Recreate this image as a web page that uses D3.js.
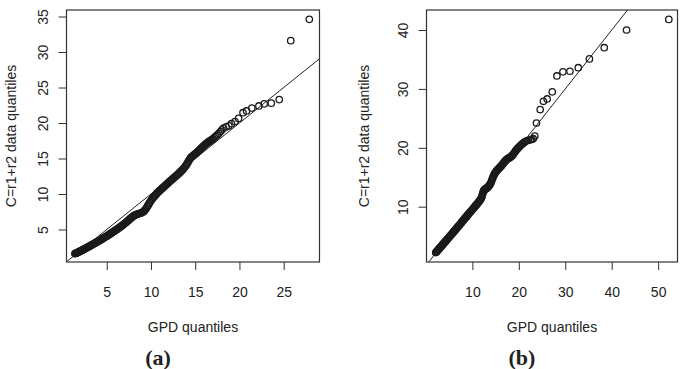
<!DOCTYPE html>
<html>
<head>
<meta charset="utf-8">
<script src="https://cdn.jsdelivr.net/npm/d3@7"></script>
<style>
  body { margin: 0; background: #fff; }
  svg { display: block; }
  text { font-family: "Liberation Sans", Arial, sans-serif; fill: #222; }
  .tag { font-family: "Liberation Serif", "Times New Roman", serif; font-weight: bold; }
</style>
</head>
<body>
<div id="chart"></div>
<script>
'use strict'

// panel (a): GPD quantiles (x) vs sorted data quantiles (y)
const gpdA = [
  1.40, 1.46, 1.52, 1.57, 1.63, 1.70, 1.76, 1.83, 1.90, 1.96, 2.03, 2.10, 2.17, 2.24, 2.31, 2.38, 2.46, 2.53,
  2.61, 2.69, 2.77, 2.85, 2.93, 3.01, 3.10, 3.18, 3.27, 3.35, 3.44, 3.53, 3.62, 3.71, 3.81, 3.90, 4.00,
  4.09, 4.19, 4.29, 4.38, 4.48, 4.58, 4.68, 4.78, 4.88, 4.98, 5.08, 5.18, 5.28, 5.38, 5.48, 5.58, 5.68,
  5.78, 5.88, 5.98, 6.08, 6.18, 6.28, 6.38, 6.48, 6.58, 6.68, 6.78, 6.88, 6.98,
  7.08, 7.18, 7.28, 7.38, 7.48, 7.58, 7.68, 7.78, 7.88, 7.98, 8.08, 8.18, 8.28, 8.38, 8.48, 8.58, 8.68,
  8.78, 8.88, 8.98, 9.08, 9.18, 9.28, 9.38, 9.48, 9.58, 9.68, 9.78, 9.88, 9.98,
  10.08, 10.18, 10.28, 10.38, 10.48, 10.58, 10.68, 10.78, 10.88, 10.98, 11.09, 11.20, 11.31, 11.42, 11.53,
  11.64, 11.75, 11.86, 11.97, 12.08, 12.19, 12.30, 12.41, 12.52, 12.63, 12.74, 12.85, 12.96, 13.07, 13.18,
  13.29, 13.40, 13.51, 13.62, 13.73, 13.84, 13.95,
  14.05, 14.14, 14.23, 14.32, 14.41, 14.50, 14.60, 14.70, 14.81, 14.92, 15.03, 15.14, 15.25, 15.36, 15.47,
  15.58, 15.69, 15.80, 15.91, 16.02, 16.13, 16.24, 16.35, 16.46, 16.57, 16.68, 16.79, 16.90, 17.01,
  17.15, 17.32, 17.50, 17.68, 17.85, 18.02, 18.20, 18.50, 18.80, 19.10, 19.50, 19.90,
  20.40, 20.80, 21.40, 22.20, 22.80, 23.60, 24.50, 25.80, 27.90]
const dataA = [
  1.60, 1.62, 1.65, 1.68, 1.72, 1.75, 1.79, 1.84, 1.88, 1.92, 1.96, 2.01, 2.05, 2.10, 2.14, 2.19, 2.24, 2.29,
  2.35, 2.40, 2.45, 2.51, 2.57, 2.62, 2.68, 2.74, 2.80, 2.86, 2.92, 2.98, 3.05, 3.11, 3.18, 3.25, 3.32,
  3.38, 3.45, 3.52, 3.60, 3.67, 3.75, 3.82, 3.90, 3.98, 4.05, 4.13, 4.22, 4.30, 4.38, 4.46, 4.55, 4.63,
  4.71, 4.80, 4.88, 4.97, 5.05, 5.14, 5.23, 5.32, 5.41, 5.50, 5.60, 5.70, 5.80,
  5.90, 6.00, 6.11, 6.22, 6.33, 6.45, 6.56, 6.67, 6.77, 6.86, 6.94, 7.01, 7.07, 7.12, 7.17, 7.21, 7.25,
  7.29, 7.33, 7.38, 7.45, 7.55, 7.68, 7.84, 8.02, 8.22, 8.43, 8.64, 8.85, 9.05,
  9.22, 9.39, 9.55, 9.70, 9.84, 9.98, 10.11, 10.24, 10.36, 10.48, 10.60, 10.73, 10.85, 10.98, 11.10,
  11.23, 11.35, 11.48, 11.60, 11.73, 11.85, 11.97, 12.09, 12.21, 12.33, 12.45, 12.57, 12.69, 12.81, 12.94,
  13.07, 13.21, 13.35, 13.50, 13.66, 13.83, 14.02,
  14.20, 14.40, 14.60, 14.79, 14.96, 15.11, 15.24, 15.35, 15.46, 15.57, 15.68, 15.80, 15.92, 16.05, 16.18,
  16.31, 16.45, 16.59, 16.72, 16.85, 16.97, 17.09, 17.20, 17.30, 17.40, 17.49, 17.58, 17.68, 17.78,
  17.95, 18.12, 18.32, 18.55, 18.80, 19.05, 19.30, 19.45, 19.60, 19.90, 20.20, 20.65,
  21.45, 21.70, 22.10, 22.40, 22.70, 22.80, 23.30, 31.60, 34.60]

// panel (b)
const gpdB = [
  2.10, 2.22, 2.34, 2.46, 2.58, 2.70, 2.82, 2.94, 3.07, 3.20, 3.33, 3.46, 3.59, 3.72, 3.85, 3.98, 4.11, 4.25,
  4.39, 4.53, 4.67, 4.81, 4.95, 5.09, 5.23, 5.37, 5.51, 5.65, 5.79, 5.93, 6.07, 6.21, 6.35, 6.49, 6.63,
  6.77, 6.91,
  7.05, 7.19, 7.33, 7.47, 7.61, 7.75, 7.89, 8.03, 8.17, 8.31, 8.45, 8.59, 8.73, 8.87, 9.01, 9.15, 9.29,
  9.43, 9.57, 9.71, 9.85, 9.99, 10.13, 10.27, 10.41, 10.55, 10.69, 10.83, 10.97, 11.11, 11.25, 11.39,
  11.53, 11.67, 11.81, 11.95,
  12.05, 12.15, 12.25, 12.35, 12.45, 12.56, 12.67, 12.78, 12.90, 13.02, 13.14, 13.26, 13.38, 13.50, 13.62,
  13.74, 13.86, 13.98,
  14.10, 14.22, 14.34, 14.46, 14.58, 14.71, 14.84, 14.97, 15.10, 15.24, 15.38, 15.52, 15.66, 15.80, 15.94,
  16.08, 16.22, 16.36, 16.50, 16.64, 16.78, 16.92, 17.06, 17.20, 17.34, 17.48, 17.62, 17.76, 17.90,
  18.05, 18.22, 18.40, 18.58, 18.76, 18.94, 19.12, 19.30, 19.48, 19.66, 19.85, 20.04, 20.24, 20.45, 20.67,
  20.90, 21.14, 21.40, 21.70, 22.05, 22.45, 22.75, 23.10, 23.45,
  23.80, 24.60, 25.30, 26.10, 27.20, 28.20, 29.50, 31.00, 32.80, 35.20, 38.40, 43.20, 52.30]
const dataB = [
  2.20, 2.30, 2.41, 2.52, 2.63, 2.74, 2.85, 2.96, 3.08, 3.20, 3.32, 3.44, 3.56, 3.68, 3.80, 3.92, 4.03, 4.15,
  4.28, 4.41, 4.54, 4.67, 4.80, 4.93, 5.06, 5.19, 5.32, 5.45, 5.58, 5.71, 5.84, 5.97, 6.10, 6.23, 6.36,
  6.49, 6.62,
  6.75, 6.88, 7.02, 7.15, 7.29, 7.42, 7.56, 7.69, 7.83, 7.96, 8.09, 8.22, 8.35, 8.48, 8.61, 8.74, 8.87,
  9.00, 9.13, 9.26, 9.39, 9.52, 9.65, 9.78, 9.91, 10.04, 10.17, 10.30, 10.43, 10.57, 10.71, 10.85,
  11.00, 11.15, 11.31, 11.50,
  11.75, 12.02, 12.30, 12.55, 12.74, 12.86, 12.94, 13.00, 13.06, 13.12, 13.19, 13.27, 13.36, 13.46, 13.58,
  13.72, 13.88, 14.06,
  14.30, 14.56, 14.82, 15.06, 15.28, 15.48, 15.66, 15.82, 15.97, 16.11, 16.24, 16.36, 16.48, 16.59, 16.70,
  16.81, 16.93, 17.06, 17.20, 17.35, 17.50, 17.64, 17.77, 17.89, 17.99, 18.08, 18.16, 18.23, 18.29,
  18.36, 18.44, 18.55, 18.70, 18.88, 19.08, 19.28, 19.47, 19.65, 19.82, 19.98, 20.14, 20.30, 20.46, 20.62,
  20.77, 20.92, 21.06, 21.18, 21.28, 21.36, 21.42, 21.55, 22.00,
  24.20, 26.50, 27.90, 28.30, 29.50, 32.20, 32.90, 33.00, 33.60, 35.10, 37.00, 40.00, 41.80]

const ticksA = { x: [5, 10, 15, 20, 25], y: [5, 10, 15, 20, 25, 30, 35] }
const ticksB = { x: [10, 20, 30, 40, 50], y: [10, 20, 30, 40] }

const W = 684, H = 369
const svg = d3.select('#chart').append('svg')
  .attr('width', W)
  .attr('height', H)

function panel (opt) {
  const x = d3.scaleLinear().domain(opt.xlim).range([opt.left, opt.right])
  const y = d3.scaleLinear().domain(opt.ylim).range([262, 10])
  const g = svg.append('g')

  const clipId = 'clip-' + opt.id
  g.append('clipPath').attr('id', clipId)
    .append('rect')
    .attr('x', opt.left).attr('y', 10)
    .attr('width', opt.right - opt.left).attr('height', 252)

  // x axis
  const gx = g.append('g')
    .attr('transform', 'translate(0, 262)')
    .call(d3.axisBottom(x).tickValues(opt.ticks.x).tickSize(8).tickSizeOuter(0))
  gx.select('.domain').remove()
  gx.selectAll('line').attr('stroke', '#333')
  gx.selectAll('text')
    .attr('y', 34.5).attr('dy', 0)
    .style('font-size', '14px')

  // y axis, labels turned like R does
  const gy = g.append('g')
    .attr('transform', `translate(${opt.left}, 0)`)
    .call(d3.axisLeft(y).tickValues(opt.ticks.y).tickSize(8).tickSizeOuter(0))
  gy.select('.domain').remove()
  gy.selectAll('line').attr('stroke', '#333')
  gy.selectAll('text')
    .attr('x', 0).attr('dy', 0)
    .attr('transform', 'translate(-18.5, 0) rotate(-90)')
    .attr('text-anchor', 'middle')
    .style('font-size', '14px')

  // reference line y = x
  g.append('line')
    .attr('clip-path', `url(#${clipId})`)
    .attr('x1', x(opt.xlim[0])).attr('y1', y(opt.xlim[0]))
    .attr('x2', x(opt.xlim[1])).attr('y2', y(opt.xlim[1]))
    .attr('stroke', '#222')
    .attr('stroke-width', 1)

  g.selectAll('circle.pt')
    .data(opt.gpd.map((d, i) => [d, opt.data[i]]))
    .enter().append('circle')
    .attr('class', 'pt')
    .attr('cx', d => x(d[0]))
    .attr('cy', d => y(d[1]))
    .attr('r', 3.2)
    .attr('fill', 'none')
    .attr('stroke', '#1a1a1a')
    .attr('stroke-width', 1.3)

  g.append('rect')
    .attr('x', opt.left).attr('y', 10)
    .attr('width', opt.right - opt.left).attr('height', 252)
    .attr('fill', 'none')
    .attr('stroke', '#333')
    .attr('stroke-width', 1.2)

  g.append('text')
    .attr('x', (opt.left + opt.right) / 2)
    .attr('y', 331.5)
    .attr('text-anchor', 'middle')
    .style('font-size', '14px')
    .text('GPD quantiles')

  g.append('text')
    .attr('transform', `translate(${opt.ylabX}, 136) rotate(-90)`)
    .attr('text-anchor', 'middle')
    .style('font-size', '14px')
    .text('C=r1+r2 data quantiles')

  g.append('text')
    .attr('class', 'tag')
    .attr('x', opt.tagX)
    .attr('y', 365)
    .attr('text-anchor', 'middle')
    .style('font-size', '22px')
    .text(opt.tag)
}

panel({ id: 'a', gpd: gpdA, data: dataA, ticks: ticksA,
  xlim: [0.45, 29.05], ylim: [0.42, 35.92], left: 66.5, right: 319.5,
  ylabX: 16, tagX: 158, tag: '(a)' })

panel({ id: 'b', gpd: gpdB, data: dataB, ticks: ticksB,
  xlim: [0.12, 54.17], ylim: [0.61, 43.4], left: 426.5, right: 677.5,
  ylabX: 369, tagX: 522, tag: '(b)' })
</script>
</body>
</html>
